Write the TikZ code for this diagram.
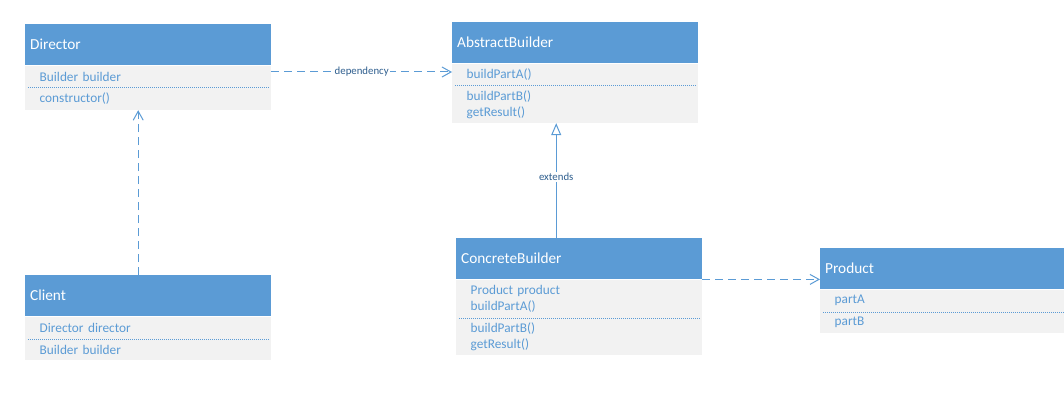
\documentclass[tikz,border=0pt]{standalone}
\usepackage{fontspec}
\setmainfont{Carlito}
\usetikzlibrary{positioning,arrows.meta}
\definecolor{HeadBlue}{HTML}{5B9BD5}
\definecolor{BodyGray}{HTML}{F2F2F2}
\definecolor{MemberBlue}{HTML}{5B9BD5}
\definecolor{LabelBlue}{HTML}{2E5E8E}

\begin{document}
\begin{tikzpicture}[
    x=1pt, y=-1pt,
    classhead/.style={
      anchor=north west,
      fill=HeadBlue,
      text=white,
      minimum width=246pt,
      minimum height=41pt,
      text width=236pt,
      inner xsep=5pt,
      inner ysep=0pt,
      align=left,
      font=\fontsize{15.3}{18}\selectfont
    },
    classpart/.style={
      below=0pt of #1,
      fill=BodyGray,
      text=MemberBlue,
      text width=217pt,
      inner xsep=14.5pt,
      inner ysep=0pt,
      align=left,
      font=\fontsize{13.3}{16.3}\selectfont
    },
    divider/.style={draw=MemberBlue, line width=0.6pt, dash pattern=on 1pt off 1pt},
    link/.style={draw=HeadBlue, line width=1pt},
    usesline/.style={link, dash pattern=on 8pt off 5pt, -{Straight Barb[length=9pt,width=10pt]}},
    linklabel/.style={fill=white, text=LabelBlue, inner sep=1pt, font=\fontsize{10.8}{12}\selectfont}
  ]
  \useasboundingbox (0,0) rectangle (1064,409);

  \node[classhead] (dir) at (25,24) {Director};
  \node[classpart=dir, minimum height=22pt] (dir1) {Builder builder};
  \node[classpart=dir1, minimum height=22pt] (dir2) {constructor()};
  \draw[divider] ([xshift=3pt]dir2.north west) -- ([xshift=-3pt]dir2.north east);

  \node[classhead] (ab) at (452,22) {AbstractBuilder};
  \node[classpart=ab, minimum height=22pt] (ab1) {buildPartA()};
  \node[classpart=ab1, minimum height=37pt] (ab2) {buildPartB()\\getResult()};
  \draw[divider] ([xshift=3pt]ab2.north west) -- ([xshift=-3pt]ab2.north east);

  \node[classhead] (cb) at (456,238) {ConcreteBuilder};
  \node[classpart=cb, minimum height=38pt] (cb1) {Product product\\buildPartA()};
  \node[classpart=cb1, minimum height=37pt] (cb2) {buildPartB()\\getResult()};
  \draw[divider] ([xshift=3pt]cb2.north west) -- ([xshift=-3pt]cb2.north east);

  \node[classhead] (prod) at (820,248) {Product};
  \node[classpart=prod, minimum height=22pt] (prod1) {partA};
  \node[classpart=prod1, minimum height=21pt] (prod2) {partB};
  \draw[divider] ([xshift=3pt]prod2.north west) -- ([xshift=-3pt]prod2.north east);

  \node[classhead] (cli) at (25,275) {Client};
  \node[classpart=cli, minimum height=22pt] (cli1) {Director director};
  \node[classpart=cli1, minimum height=21pt] (cli2) {Builder builder};
  \draw[divider] ([xshift=3pt]cli2.north west) -- ([xshift=-3pt]cli2.north east);

  \draw[usesline] (dir1.east |- 0,72) -- node[linklabel] {dependency} (ab1.west |- 0,72);
  \draw[usesline] ([xshift=-10pt]cli.north) -- ([xshift=-10pt]dir2.south);
  \draw[link, -{Triangle[open,length=12pt,width=10pt]}] ([xshift=-23pt]cb.north)
    -- node[linklabel, pos=0.53] {extends} ([xshift=-23pt]cb.north |- ab2.south);
  \draw[usesline] (cb.south east) -- (prod.west |- cb.south east);
\end{tikzpicture}
\end{document}
